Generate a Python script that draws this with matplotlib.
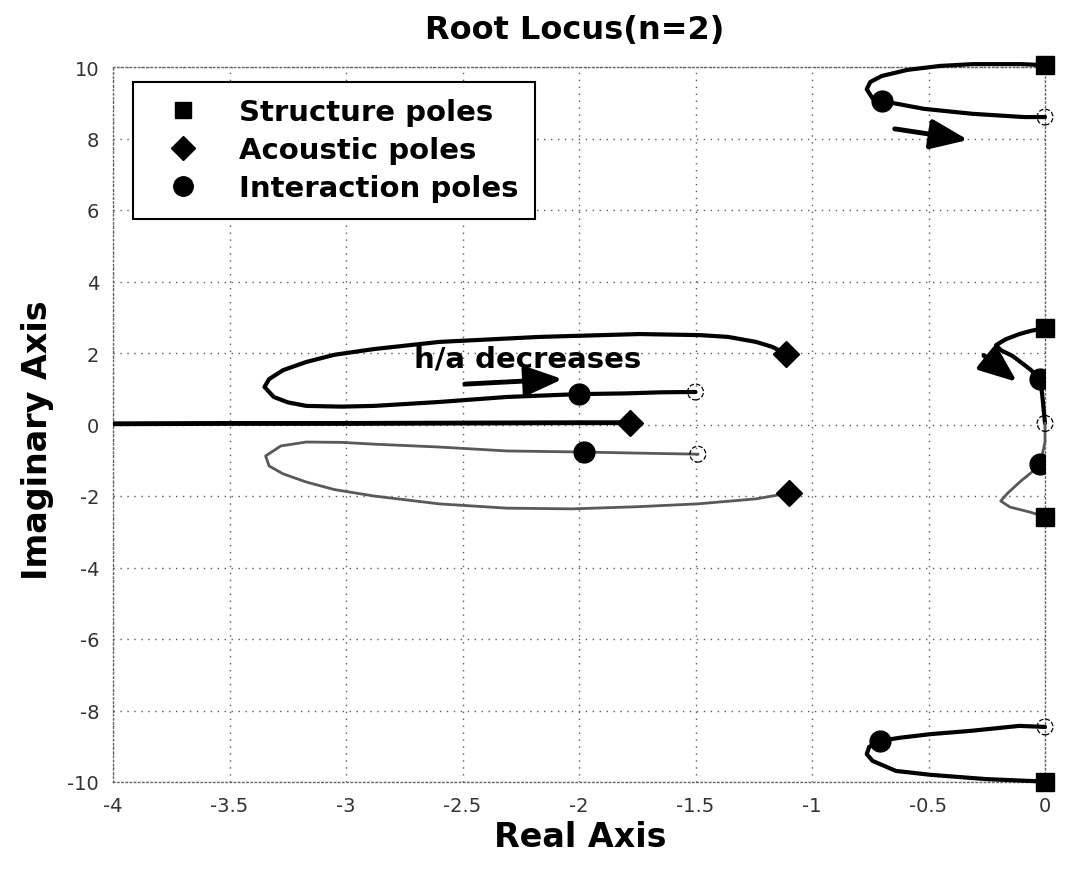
import matplotlib
matplotlib.use("Agg")
import matplotlib.pyplot as plt
from matplotlib.lines import Line2D

plt.rcParams['font.family'] = ['DejaVu Sans']
plt.rcParams['axes.unicode_minus'] = False

# --- branches (real, imag) ---
# top right: structure pole -> interaction pole -> open circle
top_x = [0, -0.10, -0.31, -0.45, -0.59, -0.70, -0.75, -0.765, -0.74, -0.70, -0.635, -0.52, -0.31, -0.09, 0]
top_y = [10.05, 10.08, 10.08, 10.03, 9.92, 9.75, 9.58, 9.38, 9.12, 9.05, 8.97, 8.83, 8.69, 8.60, 8.60]

# bottom right
bot_x = [0, -0.11, -0.32, -0.49, -0.62, -0.71, -0.755, -0.765, -0.74, -0.64, -0.49, -0.25, -0.03, 0]
bot_y = [-8.46, -8.43, -8.57, -8.66, -8.76, -8.85, -9.02, -9.22, -9.41, -9.69, -9.80, -9.92, -9.98, -10.0]

# middle right, upper half (black) and lower half (grey)
midu_x = [0, -0.06, -0.11, -0.17, -0.21, -0.19, -0.14, -0.065, -0.02, -0.01, 0]
midu_y = [2.70, 2.62, 2.53, 2.38, 2.22, 2.08, 1.92, 1.55, 1.27, 0.71, 0.03]
midl_x = [0, 0, -0.02, -0.06, -0.107, -0.16, -0.19, -0.15, -0.065, 0]
midl_y = [0.03, -0.49, -1.10, -1.35, -1.60, -1.92, -2.14, -2.31, -2.45, -2.58]

# left upper loop (black): acoustic pole -> loop -> interaction pole -> open circle
lup_x = [-1.11, -1.17, -1.24, -1.36, -1.48, -1.74, -2.17, -2.60, -2.88, -3.05, -3.17, -3.27, -3.33, -3.35, -3.31, -3.25, -3.17, -3.02, -2.88, -2.60, -2.31, -2.0, -1.80, -1.65, -1.50]
lup_y = [1.97, 2.17, 2.31, 2.45, 2.50, 2.53, 2.45, 2.31, 2.11, 1.95, 1.75, 1.52, 1.27, 1.05, 0.77, 0.62, 0.52, 0.50, 0.52, 0.63, 0.77, 0.85, 0.87, 0.90, 0.91]

# left lower loop (grey)
llo_x = [-1.10, -1.17, -1.24, -1.49, -1.75, -2.03, -2.31, -2.60, -2.88, -3.05, -3.17, -3.27, -3.33, -3.345, -3.28, -3.17, -3.02, -2.88, -2.60, -2.31, -1.98, -1.75, -1.49]
llo_y = [-1.92, -2.00, -2.08, -2.22, -2.30, -2.36, -2.34, -2.22, -2.00, -1.82, -1.61, -1.38, -1.16, -0.88, -0.60, -0.49, -0.50, -0.55, -0.63, -0.74, -0.77, -0.80, -0.83]

# real-axis branch
real_x = [-4.0, -3.5, -3.0, -2.5, -2.0, -1.78]
real_y = [0.02, 0.03, 0.03, 0.04, 0.05, 0.05]

# poles
struct_x = [0, 0, 0, 0]
struct_y = [10.05, 2.70, -2.58, -10.0]
acoustic_x = [-1.11, -1.78, -1.10]
acoustic_y = [1.97, 0.05, -1.92]
inter_x = [-0.70, -0.71, -0.02, -0.02, -2.0, -1.98]
inter_y = [9.05, -8.85, 1.27, -1.10, 0.85, -0.77]
open_x = [0, 0, 0, -1.50, -1.49]
open_y = [8.60, -8.46, 0.03, 0.91, -0.83]

xticks = [-4, -3.5, -3, -2.5, -2, -1.5, -1, -0.5, 0]
xtick_labels = ['-4', '-3.5', '-3', '-2.5', '-2', '-1.5', '-1', '-0.5', '0']
yticks = [-10, -8, -6, -4, -2, 0, 2, 4, 6, 8, 10]

fig = plt.figure(figsize=(10.69, 8.79), dpi=100)
ax = fig.add_axes([113 / 1069, 96 / 879, 932 / 1069, 715 / 879])

black = dict(color='k', lw=3, solid_capstyle='round', solid_joinstyle='round', zorder=3, clip_on=False)
grey = dict(color='0.35', lw=2, solid_joinstyle='round', zorder=3, clip_on=False)

ax.plot(top_x, top_y, **black)
ax.plot(bot_x, bot_y, **black)
ax.plot(midu_x, midu_y, **black)
ax.plot(midl_x, midl_y, **grey)
ax.plot(lup_x, lup_y, **black)
ax.plot(llo_x, llo_y, **grey)
ax.plot(real_x, real_y, color='k', lw=3.5, zorder=3)

ax.plot(struct_x, struct_y, 's', color='k', ms=13, ls='none', zorder=5, clip_on=False)
ax.plot(acoustic_x, acoustic_y, 'D', color='k', ms=13, ls='none', zorder=5)
ax.plot(inter_x, inter_y, 'o', color='k', ms=15, ls='none', zorder=5)
ax.scatter(open_x, open_y, s=130, facecolors='none', edgecolors='k',
           linestyles='--', linewidths=0.9, zorder=6, clip_on=False)

# arrows
arrow = dict(arrowstyle='-|>,head_length=0.95,head_width=0.38', lw=3.5, color='k',
             mutation_scale=24, shrinkA=0, shrinkB=0)
ax.annotate('', xy=(-0.33, 7.96), xytext=(-0.645, 8.27), arrowprops=arrow, zorder=6)
ax.annotate('', xy=(-0.12, 1.19), xytext=(-0.262, 1.93), arrowprops=arrow, zorder=6)
ax.annotate('', xy=(-2.07, 1.27), xytext=(-2.49, 1.13), arrowprops=arrow, zorder=6)
ax.text(-2.71, 1.85, 'h/a decreases', fontsize=21, fontweight='bold', ha='left', va='center', zorder=7)

ax.set_xlim(-4, 0)
ax.set_ylim(-10, 10)
ax.set_xticks(xticks)
ax.set_xticklabels(xtick_labels)
ax.set_yticks(yticks)
ax.tick_params(length=0, labelsize=14, pad=10, colors='0.2')
ax.grid(True, color='0.35', linestyle=(0, (1, 4)), lw=1)
for sp in ax.spines.values():
    sp.set_linestyle((0, (1, 2)))
    sp.set_color('0.4')
    sp.set_linewidth(1)

handles = [
    Line2D([], [], marker='s', ls='none', color='k', ms=12),
    Line2D([], [], marker='D', ls='none', color='k', ms=12),
    Line2D([], [], marker='o', ls='none', color='k', ms=14),
]
leg = ax.legend(handles, ['Structure poles', 'Acoustic poles', 'Interaction poles'],
                loc='upper left', bbox_to_anchor=(0.0215, 0.979), borderaxespad=0,
                fancybox=False, framealpha=1, edgecolor='k',
                prop={'size': 21, 'weight': 'bold'},
                handlelength=2.3, handletextpad=0.8, borderpad=0.55, labelspacing=0.35)
leg.get_frame().set_linewidth(1.5)
leg.set_zorder(10)

fig.text(575 / 1069, 1 - 30 / 879, 'Root Locus(n=2)', ha='center', va='center',
         fontsize=23, fontweight='bold')
fig.text(580 / 1069, 1 - 838 / 879, 'Real Axis', ha='center', va='center',
         fontsize=24, fontweight='bold')
fig.text(38 / 1069, 1 - 440 / 879, 'Imaginary Axis', ha='center', va='center',
         rotation=90, fontsize=24, fontweight='bold')

fig.savefig('out.png', dpi=100)
